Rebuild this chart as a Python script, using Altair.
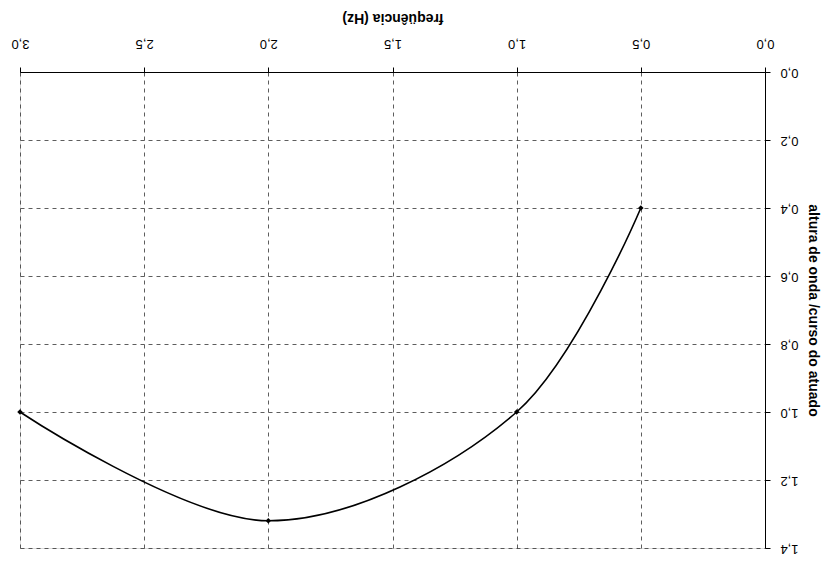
import altair as alt
import pandas as pd

freq = [0.5, 1.0, 2.0, 3.0]
altura = [0.4, 1.0, 1.32, 1.0]

df = pd.DataFrame({"freq": freq, "altura": altura})

font = "Liberation Sans"
lab = "replace(format(datum.value, '.1f'), '.', ',')"

x = alt.X("freq:Q", scale=alt.Scale(domain=[0, 3], reverse=True, nice=False),
          axis=alt.Axis(orient="top", values=[0, 0.5, 1, 1.5, 2, 2.5, 3], labelExpr=lab,
                        labelAngle=180, labelAlign="center", labelBaseline="top",
                        labelPadding=18, title="freqüência (Hz)", titleAngle=180,
                        titleBaseline="top", titleY=-48,
                        titleFontSize=14, labelFontSize=13, titleFont=font, labelFont=font,
                        titleFontWeight="bold", labelColor="black", titleColor="black",
                        domainColor="black", tickColor="black", tickSize=5,
                        gridDash=[4, 4], gridColor="#333", gridWidth=0.8))
y = alt.Y("altura:Q", scale=alt.Scale(domain=[0, 1.4], reverse=True, nice=False),
          axis=alt.Axis(orient="right", values=[0, 0.2, 0.4, 0.6, 0.8, 1.0, 1.2, 1.4],
                        labelExpr=lab, labelAngle=180, labelAlign="right",
                        labelBaseline="middle", labelPadding=10,
                        title="altura de onda /curso do atuado", titleAngle=90,
                        titlePadding=7, titleFontSize=14, labelFontSize=13,
                        titleFont=font, labelFont=font, titleFontWeight="bold",
                        labelColor="black", titleColor="black", domainColor="black",
                        tickColor="black", tickSize=5,
                        gridDash=[4, 4], gridColor="#333", gridWidth=0.8))

line = alt.Chart(df).mark_line(color="black", strokeWidth=1.6,
                               interpolate="catmull-rom").encode(x=x, y=y)
pts = alt.Chart(df).mark_point(filled=True, color="black", size=30, opacity=1,
                               shape="diamond").encode(x="freq:Q", y="altura:Q")

chart = (line + pts).properties(
    width=745, height=476,
    autosize=alt.AutoSizeParams(type="none"),
    padding={"left": 20, "top": 72, "right": 67, "bottom": 14},
).configure_view(stroke="black", strokeWidth=1.2).configure(background="white")

chart.save("out.html", embed_options={"renderer": "svg", "actions": False})
